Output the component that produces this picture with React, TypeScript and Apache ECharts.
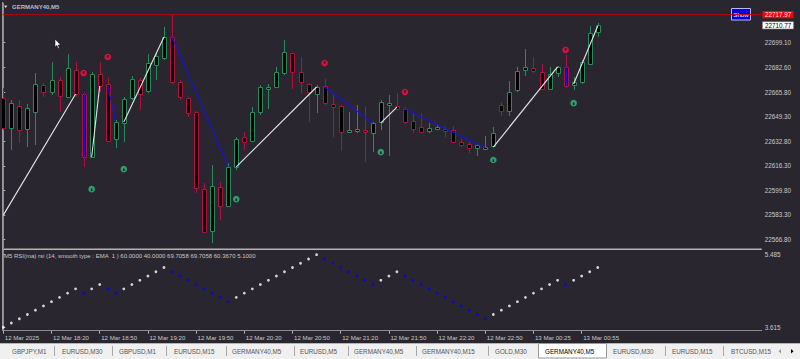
import React, { useEffect, useRef } from "react";
import * as echarts from "echarts";

// ---- data ----
const opens = [
  22661.9, 22641.7, 22656.5, 22641.0, 22652.5, 22670.6, 22665.9, 22674.0, 22662.6, 22680.7,
  22664.6, 22622.2, 22678.0, 22671.3, 22634.3, 22645.1, 22661.9, 22674.0, 22666.6, 22684.1,
  22688.8, 22702.9, 22672.7, 22661.9, 22652.5, 22600.6, 22572.4, 22602.0, 22589.2, 22615.5,
  22635.6, 22632.9, 22652.5, 22668.6, 22669.3, 22678.7, 22692.2, 22679.4, 22671.3, 22664.6,
  22670.0, 22657.9, 22656.5, 22639.0, 22640.3, 22640.3, 22638.3, 22645.7, 22657.9, 22656.5,
  22654.5, 22646.4, 22642.4, 22639.7, 22641.0, 22641.0, 22640.3, 22632.3, 22630.9, 22628.2,
  22628.6, 22629.6, 22657.2, 22653.1, 22667.3, 22680.7, 22682.1, 22679.4, 22667.9, 22678.7,
  22682.8, 22670.6, 22672.7, 22684.8, 22706.3,
];
const closes = [
  22641.7, 22658.5, 22640.3, 22655.2, 22671.3, 22665.9, 22674.0, 22663.2, 22682.1, 22664.6,
  22622.2, 22678.0, 22670.0, 22632.9, 22645.7, 22661.2, 22674.7, 22664.6, 22685.4, 22690.2,
  22702.9, 22672.7, 22662.6, 22651.8, 22601.3, 22571.7, 22602.7, 22589.2, 22615.5, 22634.3,
  22632.3, 22652.5, 22669.3, 22669.3, 22679.4, 22692.8, 22679.4, 22672.7, 22665.9, 22669.3,
  22658.5, 22655.8, 22639.0, 22640.3, 22641.0, 22639.0, 22645.1, 22659.2, 22658.5, 22654.5,
  22645.7, 22641.0, 22639.0, 22641.7, 22642.4, 22639.7, 22632.3, 22630.3, 22628.2, 22630.3,
  22628.9, 22638.3, 22653.1, 22665.9, 22680.1, 22682.8, 22680.1, 22667.9, 22678.0, 22682.8,
  22670.0, 22672.7, 22686.1, 22705.6, 22710.77,
];
const highs = [
  22668.6, 22660.5, 22660.5, 22657.9, 22678.7, 22672.0, 22686.1, 22676.0, 22691.5, 22686.1,
  22665.3, 22679.4, 22686.1, 22675.4, 22647.1, 22662.6, 22676.7, 22675.4, 22691.5, 22692.9,
  22709.7, 22718.0, 22674.0, 22662.6, 22653.1, 22604.7, 22616.8, 22605.4, 22618.1, 22635.6,
  22638.9, 22655.8, 22670.6, 22671.3, 22682.8, 22700.9, 22692.2, 22689.5, 22672.0, 22670.6,
  22674.7, 22663.9, 22657.2, 22652.5, 22657.2, 22655.8, 22645.7, 22660.5, 22663.9, 22665.3,
  22655.8, 22651.8, 22651.8, 22645.1, 22643.7, 22642.4, 22643.0, 22634.3, 22632.3, 22630.9,
  22636.3, 22642.4, 22659.2, 22673.3, 22682.8, 22694.9, 22689.5, 22684.8, 22682.8, 22683.4,
  22690.8, 22676.0, 22687.5, 22710.3, 22712.4,
];
const lows = [
  22640.3, 22626.9, 22631.6, 22628.9, 22630.3, 22662.6, 22663.9, 22652.5, 22661.9, 22662.6,
  22615.4, 22621.5, 22665.9, 22632.3, 22628.2, 22632.3, 22660.5, 22653.8, 22665.3, 22674.0,
  22687.5, 22671.3, 22660.5, 22649.1, 22598.0, 22571.0, 22564.3, 22579.8, 22588.5, 22613.4,
  22626.9, 22632.3, 22650.4, 22654.5, 22668.6, 22677.4, 22667.9, 22665.3, 22645.7, 22651.8,
  22657.2, 22635.6, 22626.2, 22638.5, 22638.3, 22618.8, 22625.5, 22640.3, 22622.9, 22653.8,
  22644.4, 22638.3, 22638.3, 22638.3, 22640.3, 22635.6, 22631.6, 22628.9, 22624.9, 22622.9,
  22628.2, 22628.9, 22649.8, 22649.8, 22665.9, 22676.7, 22678.7, 22667.3, 22667.3, 22676.0,
  22668.6, 22667.3, 22671.3, 22684.1, 22703.0,
];

// zigzag segments [fromBar, fromPrice, toBar, toPrice]
const upSegments = [
  [0, 22583.1, 9, 22664.6],
  [11, 22622.2, 12, 22670.0],
  [15, 22645.7, 20, 22702.9],
  [29, 22615.5, 39, 22669.3],
  [47, 22645.1, 49, 22655.8],
  [61, 22628.9, 69, 22682.8],
  [71, 22671.3, 74, 22710.3],
];
const downSegments = [
  [10, 22664.6, 10, 22622.2],
  [13, 22670.0, 14, 22645.7],
  [21, 22702.9, 28, 22615.5],
  [40, 22669.3, 46, 22645.1],
  [50, 22654.5, 60, 22628.4],
  [70, 22682.8, 70, 22670.0],
];

// signal markers [bar, price]
const sellSignals = [
  [10, 22678.7], [13, 22689.5], [40, 22685.4], [50, 22665.9], [70, 22694.2],
];
const buySignals = [
  [11, 22600.6], [15, 22614.1], [29, 22593.9], [47, 22625.5], [61, 22620.2], [71, 22658.5],
];

const rsiValues = [
  3.615, 3.725, 3.835, 3.945, 4.055, 4.165, 4.275, 4.385, 4.495, 4.605,
  4.495, 4.605, 4.715, 4.605, 4.495, 4.605, 4.715, 4.825, 4.935, 5.045,
  5.155, 5.045, 4.935, 4.825, 4.715, 4.605, 4.495, 4.385, 4.275, 4.385,
  4.495, 4.605, 4.715, 4.825, 4.935, 5.045, 5.155, 5.265, 5.375, 5.485,
  5.375, 5.265, 5.155, 5.045, 4.935, 4.825, 4.715, 4.825, 4.935, 5.045,
  4.935, 4.825, 4.715, 4.605, 4.495, 4.385, 4.275, 4.165, 4.055, 3.945,
  3.835, 3.945, 4.055, 4.165, 4.275, 4.385, 4.495, 4.605, 4.715, 4.825,
  4.715, 4.825, 4.935, 5.045, 5.155,
];

const priceTicks = [22699.1, 22682.6, 22665.8, 22649.3, 22632.8, 22616.3, 22599.8, 22583.3, 22566.8];
const rsiTicks = [3.615, 5.485];
const timeTickBars = [0, 6, 12, 18, 24, 30, 36, 42, 48, 54, 60, 66, 72];
const timeTickLabels = [
  "12 Mar 2025", "12 Mar 18:20", "12 Mar 18:50", "12 Mar 19:20", "12 Mar 19:50",
  "12 Mar 20:20", "12 Mar 20:50", "12 Mar 21:20", "12 Mar 21:50", "12 Mar 22:20",
  "12 Mar 22:50", "13 Mar 00:25", "13 Mar 00:55",
];
const highLinePrice = 22717.97;
const currentPrice = 22710.77;

const tabs = [
  "GBPJPY,M1", "EURUSD,M30", "GBPUSD,M1", "EURUSD,M15", "GERMANY40,M5", "EURUSD,M5",
  "GERMANY40,M5", "GERMANY40,M15", "GOLD,M30", "GERMANY40,M5", "EURUSD,M30", "EURUSD,M15", "BTCUSD,M15",
];
const activeTab = 9;

// ---- styling ----
const BG = "#2a2630";
const BULL = "#2b8a5c";
const BEAR = "#b0103e";
const FONT = "Liberation Sans, Arial, sans-serif";
const X_MIN = -0.075;
const X_MAX = 94.41;

const tabTextX = [12, 62, 119, 174, 232, 300, 354, 422, 495, 545, 613, 672, 731];
const tabSepX = [54.5, 112.5, 166.5, 226.5, 294.5, 348.5, 416.5, 488.5, 665.5, 723.5];

export default function App() {
  const ref = useRef<HTMLDivElement>(null);

  useEffect(() => {
    document.body.style.margin = "0";
    const el = ref.current!;
    const chart = echarts.init(el, null, { renderer: "svg" });

    const candleData = opens.map((o, i) => [i, o, closes[i], lows[i], highs[i]]);

    const segRender = (color: string) => (params: any, api: any) => {
      const a = api.coord([api.value(0), api.value(1)]);
      const b = api.coord([api.value(2), api.value(3)]);
      let x1 = a[0], x2 = b[0];
      if (api.value(0) === api.value(2)) {
        x1 = Math.round(a[0]) + 0.5;
        x2 = x1;
      }
      return {
        type: "line",
        shape: { x1, y1: a[1], x2, y2: b[1] },
        style: { stroke: color, lineWidth: 1.1 },
      };
    };

    const markerRender = (color: string, up: boolean) => (params: any, api: any) => {
      const p = api.coord([api.value(0), api.value(1)]);
      return {
        type: "group",
        children: [
          { type: "circle", shape: { cx: p[0], cy: p[1], r: 3.3 }, style: { fill: color } },
          {
            type: "rect",
            shape: { x: p[0] - 0.8, y: up ? p[1] - 0.6 : p[1] - 2, width: 1.6, height: 2.6 },
            style: { fill: "#2a1c24" },
          },
        ],
      };
    };

    const option: any = {
      animation: false,
      backgroundColor: BG,
      textStyle: { fontFamily: FONT },
      grid: [
        { left: 2.7, top: 3, width: 759, height: 245 },
        { left: 2.7, top: 250, width: 759, height: 80.7 },
      ],
      xAxis: [
        { type: "value", gridIndex: 0, min: X_MIN, max: X_MAX, show: false },
        {
          type: "value",
          gridIndex: 1,
          min: X_MIN,
          max: X_MAX,
          splitLine: { show: false },
          axisLine: { show: true, lineStyle: { color: "#8a8a8a", width: 1 } },
          axisTick: {
            show: true,
            customValues: timeTickBars,
            length: 3,
            lineStyle: { color: "#b0b0b0" },
          },
          axisLabel: {
            customValues: timeTickBars,
            formatter: (v: number) => timeTickLabels[timeTickBars.indexOf(Math.round(v))] || "",
            color: "#c8c8c8",
            fontSize: 6.1,
            fontFamily: FONT,
            align: "left",
            margin: 4,
            padding: [0, 0, 0, 1.5],
          },
        },
      ],
      yAxis: [
        {
          type: "value",
          gridIndex: 0,
          position: "right",
          min: 22561.0,
          max: 22725.8,
          splitLine: { show: false },
          axisLine: { show: true, lineStyle: { color: "#8a8a8a" } },
          axisTick: { show: true, customValues: priceTicks, length: 2, lineStyle: { color: "#b0b0b0" } },
          axisLabel: {
            customValues: priceTicks,
            formatter: (v: number) => v.toFixed(2),
            color: "#c8c8c8",
            fontSize: 6.3,
            fontFamily: FONT,
            margin: 3,
          },
        },
        {
          type: "value",
          gridIndex: 1,
          position: "right",
          min: 3.527,
          max: 5.606,
          splitLine: { show: false },
          axisLine: { show: true, lineStyle: { color: "#8a8a8a" } },
          axisTick: { show: true, customValues: rsiTicks, length: 2, lineStyle: { color: "#b0b0b0" } },
          axisLabel: {
            customValues: rsiTicks,
            formatter: (v: number) => v.toFixed(3),
            color: "#c8c8c8",
            fontSize: 6.3,
            fontFamily: FONT,
            margin: 3,
          },
        },
      ],
      series: [
        {
          type: "line",
          xAxisIndex: 0,
          yAxisIndex: 0,
          data: [
            [X_MIN, highLinePrice],
            [X_MAX, highLinePrice],
          ],
          showSymbol: false,
          symbol: "none",
          lineStyle: { color: "#c00010", width: 1 },
          z: 1,
        },
        {
          type: "custom",
          xAxisIndex: 0,
          yAxisIndex: 0,
          clip: true,
          data: candleData,
          encode: { x: 0, y: [1, 2, 3, 4] },
          z: 2,
          renderItem: (params: any, api: any) => {
            const x = api.value(0);
            const o = api.value(1);
            const c = api.value(2);
            const l = api.value(3);
            const h = api.value(4);
            const po = api.coord([x, o]);
            const pc = api.coord([x, c]);
            const pl = api.coord([x, l]);
            const ph = api.coord([x, h]);
            const col = c >= o ? BULL : BEAR;
            const n = Math.round(po[0]);
            const cx = n + 0.5;
            const top = Math.round(Math.min(po[1], pc[1])) + 0.5;
            let bot = Math.round(Math.max(po[1], pc[1])) + 0.5;
            if (bot - top < 2) bot = top + 2;
            return {
              type: "group",
              children: [
                { type: "line", shape: { x1: cx, y1: ph[1], x2: cx, y2: top }, style: { stroke: col, lineWidth: 1 } },
                { type: "line", shape: { x1: cx, y1: bot, x2: cx, y2: pl[1] }, style: { stroke: col, lineWidth: 1 } },
                {
                  type: "rect",
                  shape: { x: n - 1.5, y: top, width: 4, height: bot - top },
                  style: { fill: "#000000", stroke: col, lineWidth: 1 },
                },
              ],
            };
          },
        },
        {
          type: "custom",
          xAxisIndex: 0,
          yAxisIndex: 0,
          clip: true,
          data: upSegments,
          encode: { x: [0, 2], y: [1, 3] },
          z: 3,
          renderItem: segRender("#e6e6e6"),
        },
        {
          type: "custom",
          xAxisIndex: 0,
          yAxisIndex: 0,
          clip: true,
          data: downSegments,
          encode: { x: [0, 2], y: [1, 3] },
          z: 3,
          renderItem: segRender("#1414e6"),
        },
        {
          type: "custom",
          xAxisIndex: 0,
          yAxisIndex: 0,
          data: sellSignals,
          encode: { x: 0, y: 1 },
          z: 4,
          renderItem: markerRender("#d0143e", false),
        },
        {
          type: "custom",
          xAxisIndex: 0,
          yAxisIndex: 0,
          data: buySignals,
          encode: { x: 0, y: 1 },
          z: 4,
          renderItem: markerRender("#2aa070", true),
        },
        {
          type: "scatter",
          xAxisIndex: 1,
          yAxisIndex: 1,
          symbol: "circle",
          symbolSize: 2.8,
          data: rsiValues.map((v, i) => ({
            value: [i, v],
            itemStyle: { color: i > 0 && v < rsiValues[i - 1] ? "#0000ff" : "#ffffff" },
          })),
        },
      ],
    };

    chart.setOption(option);

    const yHigh = chart.convertToPixel({ yAxisIndex: 0 } as any, highLinePrice) as unknown as number;
    const yCur = chart.convertToPixel({ yAxisIndex: 0 } as any, currentPrice) as unknown as number;

    const tabElems: any[] = [
      { type: "rect", shape: { x: 0, y: 343, width: 800, height: 16 }, style: { fill: "#f0f0f0" } },
      { type: "line", shape: { x1: 0, y1: 343.5, x2: 800, y2: 343.5 }, style: { stroke: "#b4b4b4", lineWidth: 1 } },
      {
        type: "rect",
        shape: { x: 538.5, y: 343.5, width: 68, height: 14.5 },
        style: { fill: "#ffffff", stroke: "#9a9a9a", lineWidth: 1 },
      },
    ];
    tabSepX.forEach((x) => {
      tabElems.push({
        type: "line",
        shape: { x1: x, y1: 346, x2: x, y2: 356 },
        style: { stroke: "#a8a8a8", lineWidth: 1 },
      });
    });
    tabs.forEach((t, i) => {
      tabElems.push({
        type: "text",
        x: tabTextX[i],
        y: 351,
        style: {
          text: t,
          fill: i === activeTab ? "#000000" : "#555555",
          fontSize: 6.3,
          fontFamily: FONT,
          verticalAlign: "middle",
        },
      });
    });
    tabElems.push(
      { type: "polygon", shape: { points: [[781, 349], [781, 353.5], [778.5, 351.2]] }, style: { fill: "#9a9a9a" } },
      { type: "polygon", shape: { points: [[791, 349], [791, 353.5], [793.5, 351.2]] }, style: { fill: "#000000" } }
    );

    const graphics: any[] = [
      // frame
      { type: "line", shape: { x1: 2.5, y1: 2, x2: 2.5, y2: 331 }, style: { stroke: "#9a9a9a", lineWidth: 1 } },
      { type: "line", shape: { x1: 2.5, y1: 249.3, x2: 761.7, y2: 249.3 }, style: { stroke: "#b4b4b4", lineWidth: 1.6 } },
      // header
      { type: "polygon", shape: { points: [[4, 5.6], [7.4, 5.6], [5.7, 8.2]] }, style: { fill: "#c8c8d0" } },
      {
        type: "text",
        x: 12,
        y: 7.2,
        style: { text: "GERMANY40,M5", fill: "#bcbcc8", fontSize: 6, fontWeight: "bold", fontFamily: FONT, verticalAlign: "middle" },
      },
      // RSI caption
      {
        type: "text",
        x: 4,
        y: 256,
        style: {
          text: "M5 RSI(ma) rsi (14, smooth type : EMA  1 ) 60.0000 40.0000 69.7058 69.7058 60.3670 5.1000",
          fill: "#c8c8c8",
          fontSize: 6,
          fontFamily: FONT,
          verticalAlign: "middle",
        },
      },
      // Show button
      {
        type: "rect",
        shape: { x: 731.5, y: 8.5, width: 19, height: 11.5 },
        style: { fill: "#0000e0", stroke: "#b8b8ff", lineWidth: 1 },
      },
      {
        type: "text",
        x: 741,
        y: 14.4,
        style: { text: "Show", fill: "#ffffff", fontSize: 6.2, fontFamily: FONT, align: "center", verticalAlign: "middle" },
      },
      // price boxes
      {
        type: "rect",
        shape: { x: 762.5, y: yHigh - 3.6, width: 31, height: 7.2 },
        style: { fill: "#ff0000" },
      },
      {
        type: "text",
        x: 765,
        y: yHigh,
        style: { text: highLinePrice.toFixed(2), fill: "#ffe4e4", fontSize: 6.3, fontFamily: FONT, verticalAlign: "middle" },
      },
      {
        type: "rect",
        shape: { x: 762.5, y: yCur - 3.6, width: 31, height: 7.2 },
        style: { fill: "#ffffff", stroke: "#808080", lineWidth: 0.5 },
      },
      {
        type: "text",
        x: 765,
        y: yCur,
        style: { text: currentPrice.toFixed(2), fill: "#000000", fontSize: 6.3, fontFamily: FONT, verticalAlign: "middle" },
      },
      // mouse cursor
      {
        type: "polygon",
        shape: { points: [[55, 39], [55, 47], [56.9, 45.4], [58.2, 48.4], [59.4, 47.9], [58.1, 45], [60.6, 45]] },
        style: { fill: "#ffffff", stroke: "#000000", lineWidth: 0.5 },
      },
      ...tabElems,
    ];

    chart.setOption({ graphic: graphics });

    return () => {
      chart.dispose();
    };
  }, []);

  return <div ref={ref} style={{ width: 800, height: 359 }} />;
}
